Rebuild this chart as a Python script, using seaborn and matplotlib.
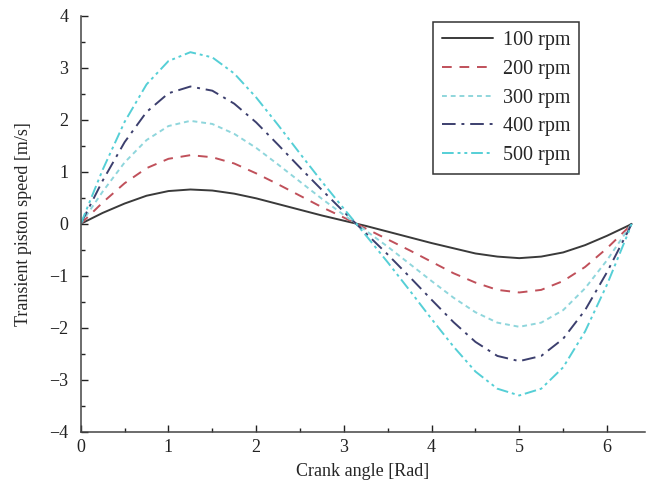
import numpy as np
import pandas as pd
import matplotlib
matplotlib.use('Agg')
import matplotlib.pyplot as plt
from matplotlib.ticker import MultipleLocator
import seaborn as sns

# Values (crank angle in rad, speed in m/s)
crank_angle = [0, 0.25, 0.5, 0.75, 1.0, 1.25, 1.5, 1.75, 2.0, 2.25, 2.5, 2.75, 3.0,
               3.25, 3.5, 3.75, 4.0, 4.25, 4.5, 4.75, 5.0, 5.25, 5.5, 5.75, 6.0, 6.25, 6.28]
speed_100 = [0, 0.21, 0.39, 0.54, 0.63, 0.66, 0.64, 0.58, 0.49, 0.38, 0.27, 0.16, 0.06,
             -0.04, -0.15, -0.26, -0.37, -0.47, -0.57, -0.63, -0.66, -0.63, -0.55, -0.41, -0.23, -0.03, 0]
speed_200 = [0, 0.41, 0.78, 1.07, 1.25, 1.32, 1.28, 1.16, 0.97, 0.76, 0.54, 0.32, 0.12,
             -0.09, -0.30, -0.51, -0.73, -0.95, -1.13, -1.27, -1.32, -1.27, -1.10, -0.83, -0.47, -0.06, 0]
speed_300 = [0, 0.62, 1.18, 1.61, 1.88, 1.98, 1.92, 1.73, 1.46, 1.14, 0.81, 0.48, 0.17,
             -0.13, -0.44, -0.77, -1.10, -1.42, -1.70, -1.90, -1.98, -1.90, -1.66, -1.24, -0.70, -0.08, 0]
speed_400 = [0, 0.83, 1.57, 2.15, 2.51, 2.64, 2.56, 2.31, 1.95, 1.52, 1.08, 0.65, 0.23,
             -0.18, -0.59, -1.02, -1.46, -1.89, -2.27, -2.54, -2.64, -2.54, -2.21, -1.66, -0.93, -0.11, 0]
speed_500 = [0, 1.04, 1.96, 2.68, 3.13, 3.30, 3.20, 2.89, 2.43, 1.90, 1.35, 0.81, 0.29,
             -0.22, -0.74, -1.28, -1.83, -2.36, -2.84, -3.17, -3.30, -3.17, -2.76, -2.07, -1.17, -0.14, 0]

labels = ['100 rpm', '200 rpm', '300 rpm', '400 rpm', '500 rpm']
series = [speed_100, speed_200, speed_300, speed_400, speed_500]
colors = ['#3a3a3a', '#c0505a', '#8fd6dc', '#3c3f6e', '#55cfd6']
styles = ['-', (0, (5, 4)), (0, (2.5, 2)), (0, (7, 3, 1.5, 3)), (0, (6, 2, 1.5, 2, 1.5, 2))]

sns.set_style('ticks')
plt.rcParams['font.family'] = ['Liberation Serif', 'DejaVu Serif']

fig = plt.figure(figsize=(6.46, 4.93), dpi=100)
ax = fig.add_axes([0.125, 0.124, 0.873, 0.844])

for lab, ys, c, ls in zip(labels, series, colors, styles):
    df = pd.DataFrame({'angle': crank_angle, 'speed': ys})
    sns.lineplot(data=df, x='angle', y='speed', ax=ax, color=c, linestyle=ls,
                 linewidth=1.4, label=lab, sort=False)

ax.set_xlim(0, 6.43)
ax.set_ylim(-4, 4)
ax.xaxis.set_major_locator(MultipleLocator(1))
ax.xaxis.set_minor_locator(MultipleLocator(0.5))
ax.yaxis.set_minor_locator(MultipleLocator(0.5))
ax.set_yticks([4, 3, 2, 1, 0, -1, -2, -3, -4])
ax.set_yticklabels(['4', '3', '2', '1', '0', '\u22121', '\u22122', '\u22123', '\u22124'])
ax.tick_params(which='major', direction='in', length=5, width=1, labelsize=13, colors='#222222')
ax.tick_params(axis='y', which='major', pad=9)
ax.tick_params(axis='x', which='major', pad=5)
ax.tick_params(which='minor', direction='in', length=3, width=1, colors='#222222')
for side in ['top', 'right']:
    ax.spines[side].set_visible(False)
for side in ['left', 'bottom']:
    ax.spines[side].set_color('#444444')
    ax.spines[side].set_linewidth(1.1)

ax.set_xlabel('Crank angle [Rad]', fontsize=13, labelpad=5)
ax.set_ylabel('Transient piston speed [m/s]', fontsize=13, labelpad=12)

leg = ax.legend(loc='upper left', bbox_to_anchor=(0.625, 0.985), fontsize=14.5, frameon=True,
                fancybox=False, edgecolor='#333333', framealpha=1, handlelength=2.5,
                handletextpad=0.5, labelspacing=0.48, borderpad=0.45, borderaxespad=0)
leg.get_frame().set_linewidth(1.1)

fig.savefig('out.png', dpi=100)
